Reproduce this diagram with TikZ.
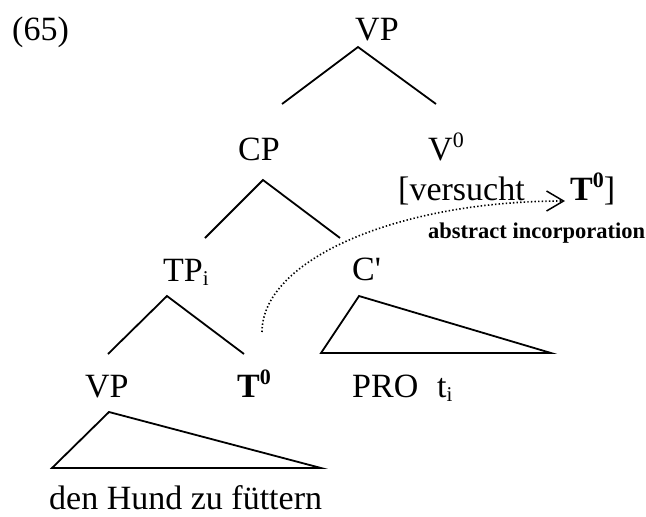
\documentclass[tikz,border=0pt]{standalone}
\usepackage{fontspec}
\setmainfont{Liberation Serif}
\usetikzlibrary{arrows.meta}
% raised / lowered index digits and letters
\newcommand{\hsup}[1]{\raisebox{12.5pt}{\fontsize{22}{22}\selectfont #1}}
\newcommand{\hsub}[1]{\raisebox{-4pt}{\fontsize{21}{21}\selectfont #1}}
\begin{document}
\begin{tikzpicture}[x=1pt,y=-1pt,
  lbl/.style={anchor=base west, inner sep=0pt, font=\fontsize{34}{40}\selectfont},
  note/.style={anchor=base west, inner sep=0pt, font=\fontsize{22.5}{27}\selectfont\bfseries},
  branch/.style={line width=1.8pt},
  tri/.style={line width=1.8pt, line join=miter},
  movement/.style={line width=1.6pt, dash pattern=on 1.4pt off 2.2pt,
    -{Straight Barb[length=17pt,width=20pt,line width=1.5pt]}}]
\useasboundingbox (0,0) rectangle (646,517);

% labels
\node[lbl] (ex)    at (12,40)   {(65)};
\node[lbl] (vp)    at (355,40)  {VP};
\node[lbl] (cp)    at (238,160) {CP};
\node[lbl] (v0)    at (428,160) {V\hsup{0}};
\node[lbl] (vers)  at (398,200) {[versucht};
\node[lbl] (tv)    at (570,200) {\textbf{T\hsup{\bfseries 0}}]};
\node[note] (abs)  at (428,238) {abstract incorporation};
\node[lbl] (tp)    at (163,281) {TP\hsub{i}};
\node[lbl] (cbar)  at (352,280) {C\textquotesingle};
\node[lbl] (vp2)   at (85,397)  {VP};
\node[lbl] (t0)    at (237,397) {\textbf{T\hsup{\bfseries 0}}};
\node[lbl] (pro)   at (352,397) {PRO};
\node[lbl] (ti)    at (437,397) {t\hsub{i}};
\node[lbl] (obj)   at (49,509)  {den Hund zu füttern};

% branch points
\coordinate (vpA) at (358,47);
\coordinate (vpL) at (282,104);
\coordinate (vpR) at (436,104);
\coordinate (cpA) at (263,180);
\coordinate (cpL) at (205,238);
\coordinate (cpR) at (340,238);
\coordinate (tpA) at (167,296);
\coordinate (tpL) at (108,354);
\coordinate (tpR) at (244,354);
\coordinate (cbA) at (359,296);
\coordinate (cbL) at (321,353);
\coordinate (cbR) at (551,353);
\coordinate (obA) at (109,412);
\coordinate (obL) at (52,468);
\coordinate (obR) at (321,468);

\draw[branch] (vpL) -- (vpA) -- (vpR);
\draw[branch] (cpL) -- (cpA) -- (cpR);
\draw[branch] (tpL) -- (tpA) -- (tpR);
\draw[tri] (cbA) -- (cbL) -- (cbR) -- cycle;
\draw[tri] (obA) -- (obL) -- (obR) -- cycle;

% head movement of T0 into the verb
\coordinate (mvS) at (262,332);
\coordinate (mvE) at (565,201);
\draw[movement] (mvS) .. controls (262,259.6) and (397.7,201) .. (mvE);
\end{tikzpicture}
\end{document}
